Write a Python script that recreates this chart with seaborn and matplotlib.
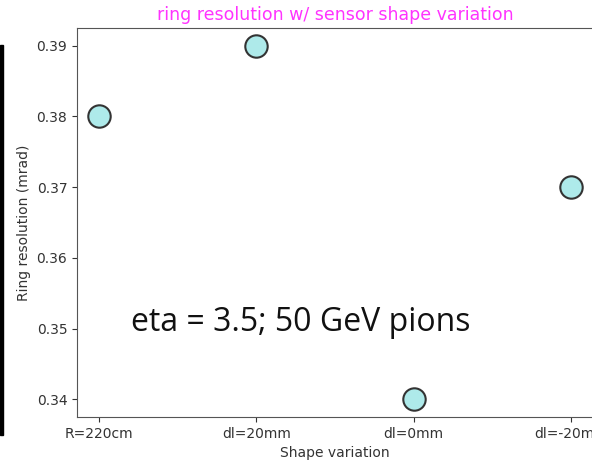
import numpy as np
import pandas as pd
import matplotlib
matplotlib.use("Agg")
import matplotlib.pyplot as plt
import seaborn as sns
from matplotlib.patches import Rectangle

shapes = ['R=220cm', 'dl=20mm', 'dl=0mm', 'dl=-20mm']
resolution = [0.38, 0.39, 0.34, 0.37]

df = pd.DataFrame({'Shape variation': shapes, 'Ring resolution (mrad)': resolution})

sns.set_style('ticks')
plt.rcParams['font.family'] = ['DejaVu Sans']

fig = plt.figure(figsize=(5.92, 4.66), dpi=100)
ax = fig.add_axes([77 / 592, 1 - 417 / 466, (593 - 77) / 592, (417 - 28) / 466])

sns.scatterplot(data=df, x='Shape variation', y='Ring resolution (mrad)', ax=ax,
                s=260, color='#aeeaea', edgecolor='#333333', linewidth=1.5, zorder=3)

ax.set_xlim(-0.14, 3.14)
ax.set_ylim(0.3375, 0.3925)
ax.set_yticks([0.34, 0.35, 0.36, 0.37, 0.38, 0.39])
for sp in ax.spines.values():
    sp.set_visible(True)
    sp.set_color('#555555')
ax.tick_params(colors='#333333', labelsize=10)
ax.set_xlabel('Shape variation', fontsize=10, color='#333333')
ax.set_ylabel('Ring resolution (mrad)', fontsize=10, color='#333333')
ax.set_title('ring resolution w/ sensor shape variation', color='#ff33ff', fontsize=12.5, pad=6)

ax.text(0.434, 0.221, 'eta = 3.5; 50 GeV pions', transform=ax.transAxes,
        ha='center', va='baseline', fontsize=23, family=['Open Sans', 'DejaVu Sans'], color='#111111')

fig.patches.append(Rectangle((0, 1 - 435 / 466), 3 / 592, (435 - 45) / 466,
                             transform=fig.transFigure, color='black'))

fig.savefig('out.png', dpi=100)
